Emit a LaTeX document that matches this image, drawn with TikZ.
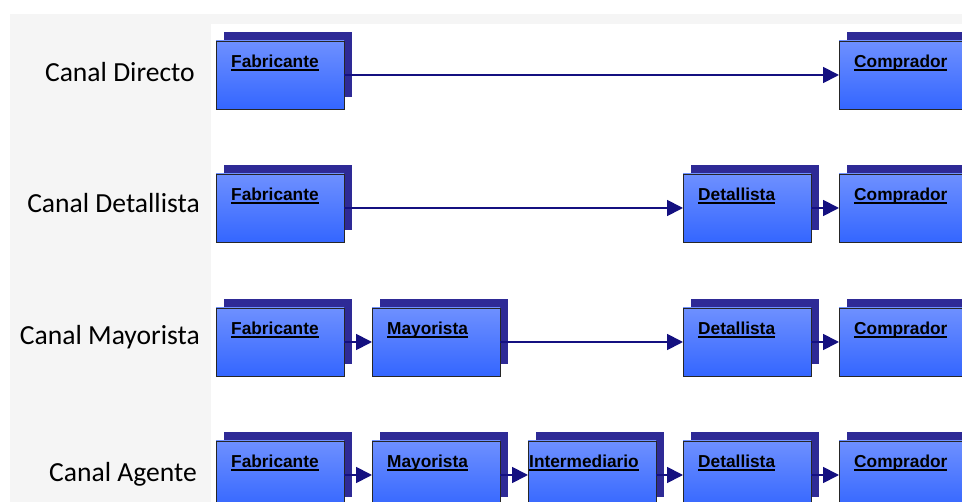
\documentclass[tikz,border=0pt]{standalone}
\usepackage{fontspec}
\setmainfont{Carlito}
\newfontfamily\cajafont{Liberation Sans}
\definecolor{fondogris}{RGB}{245, 245, 245}
\definecolor{sombra}{RGB}{46, 42, 150}
\definecolor{cajaarriba}{RGB}{110, 144, 255}
\definecolor{cajaabajo}{RGB}{52, 102, 255}
\definecolor{flechaazul}{RGB}{20, 16, 128}
\newcommand{\subrayado}[1]{\setbox0\hbox{#1}\rlap{\rule[-2.8pt]{\wd0}{1.3pt}}\box0}
\usetikzlibrary{arrows.meta}
\tikzset{
    margen/.store in=\margen, margen=15,
    caja/.style={draw=black!85, line width=0.9pt, top color=cajaarriba,
        bottom color=cajaabajo, minimum width=128pt, minimum height=68pt,
        inner sep=0pt, outer sep=0pt},
    etiqueta/.style={anchor=base west, inner sep=0pt,
        font=\cajafont\bfseries\fontsize{17.3}{20}\selectfont},
    canal/.style={anchor=base east, inner sep=0pt,
        font=\fontsize{27.6}{32}\selectfont},
    flecha/.style={draw=flechaazul, line width=1.8pt,
        -{Triangle[length=16pt, width=16pt]}},
    canalbox/.pic={
        \fill[sombra] (7.5, -9) rectangle (135.5, 56);
        \node[caja] (-b) at (64, 34) {};
        \node[etiqueta] (-t) at (\margen, 27) {\subrayado{#1}};
    },
}

\begin{document}
\begin{tikzpicture}[x=1pt, y=-1pt]
    \path[use as bounding box, clip] (0, 0) rectangle (962, 502);
    \fill[white] (0, 0) rectangle (962, 502);
    \fill[fondogris] (10, 14) rectangle (962, 502);
    \fill[white] (211, 24) rectangle (962, 502);

    % Canal Directo
    \node[canal] (canal1) at (195, 82) {Canal Directo};
    \pic (fab1) at (216, 41) {canalbox=Fabricante};
    \pic (com1) at (839, 41) {canalbox=Comprador};
    \draw[flecha] (fab1-b) -- (com1-b);

    % Canal Detallista
    \node[canal] (canal2) at (200, 213) {Canal Detallista};
    \pic (fab2) at (216, 174) {canalbox=Fabricante};
    \pic (det2) at (683, 174) {canalbox=Detallista};
    \pic (com2) at (839, 174) {canalbox=Comprador};
    \draw[flecha] (fab2-b) -- (det2-b);
    \draw[flecha] (det2-b) -- (com2-b);

    % Canal Mayorista
    \node[canal] (canal3) at (200, 345) {Canal Mayorista};
    \pic (fab3) at (216, 308) {canalbox=Fabricante};
    \pic (may3) at (372, 308) {canalbox=Mayorista};
    \pic (det3) at (683, 308) {canalbox=Detallista};
    \pic (com3) at (839, 308) {canalbox=Comprador};
    \draw[flecha] (fab3-b) -- (may3-b);
    \draw[flecha] (may3-b) -- (det3-b);
    \draw[flecha] (det3-b) -- (com3-b);

    % Canal Agente
    \node[canal] (canal4) at (197, 482) {Canal Agente};
    \pic (fab4) at (216, 441) {canalbox=Fabricante};
    \pic (may4) at (372, 441) {canalbox=Mayorista};
    \pic[margen=1] (int4) at (528, 441) {canalbox=Intermediario};
    \pic (det4) at (683, 441) {canalbox=Detallista};
    \pic (com4) at (839, 441) {canalbox=Comprador};
    \draw[flecha] (fab4-b) -- (may4-b);
    \draw[flecha] (may4-b) -- (int4-b);
    \draw[flecha] (int4-b) -- (det4-b);
    \draw[flecha] (det4-b) -- (com4-b);
\end{tikzpicture}
\end{document}
